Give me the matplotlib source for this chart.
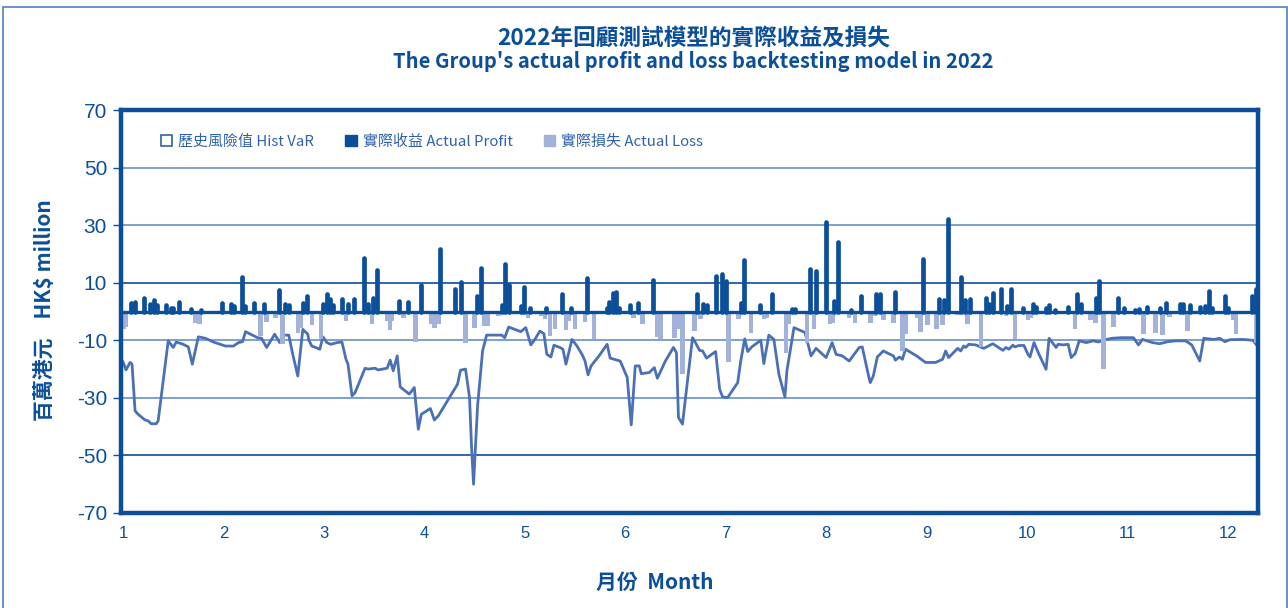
# 2022 backtesting: actual profit / loss bars with Hist VaR line
import matplotlib
matplotlib.use("Agg")
import matplotlib.pyplot as plt
from matplotlib.patches import Patch, Rectangle
import numpy as np

# --- data (x = month of 2022, as fraction of the month) ---
var_month = [1.00, 1.03, 1.07, 1.09, 1.12, 1.15, 1.22, 1.25, 1.28, 1.33, 1.35, 1.45, 1.50, 1.53,
             1.60, 1.65, 1.69, 1.75, 1.82, 1.90, 2.02, 2.10, 2.15, 2.19, 2.22, 2.27, 2.34, 2.38,
             2.43, 2.51, 2.56, 2.59, 2.65, 2.69, 2.74, 2.79, 2.84, 2.85, 2.88, 2.96, 2.99, 3.03,
             3.07, 3.13, 3.18, 3.22, 3.24, 3.28, 3.31, 3.41, 3.44, 3.51, 3.54, 3.63, 3.66, 3.69,
             3.73, 3.76, 3.85, 3.90, 3.94, 3.97, 4.06, 4.10, 4.14, 4.28, 4.33, 4.36, 4.41, 4.45,
             4.47, 4.49, 4.53, 4.58, 4.62, 4.70, 4.77, 4.80, 4.84, 4.90, 4.96, 5.01, 5.06, 5.10,
             5.15, 5.19, 5.22, 5.26, 5.29, 5.35, 5.38, 5.41, 5.47, 5.52, 5.57, 5.60, 5.63, 5.66,
             5.74, 5.82, 5.85, 5.92, 5.95, 6.02, 6.06, 6.10, 6.14, 6.16, 6.24, 6.29, 6.32, 6.40,
             6.48, 6.51, 6.53, 6.57, 6.67, 6.69, 6.74, 6.77, 6.81, 6.90, 6.94, 6.97, 7.02, 7.12,
             7.15, 7.19, 7.22, 7.26, 7.35, 7.38, 7.43, 7.48, 7.53, 7.59, 7.61, 7.68, 7.79, 7.85,
             7.90, 8.00, 8.06, 8.10, 8.16, 8.23, 8.33, 8.36, 8.43, 8.44, 8.47, 8.51, 8.57, 8.62,
             8.67, 8.69, 8.73, 8.76, 8.79, 8.90, 8.99, 9.09, 9.16, 9.19, 9.22, 9.31, 9.34, 9.37,
             9.39, 9.42, 9.49, 9.57, 9.66, 9.76, 9.79, 9.82, 9.86, 9.88, 9.92, 9.97, 10.01, 10.03,
             10.07, 10.12, 10.19, 10.22, 10.29, 10.31, 10.36, 10.41, 10.44, 10.48, 10.52, 10.59,
             10.66, 10.71, 10.79, 10.85, 10.93, 11.06, 11.11, 11.15, 11.25, 11.32, 11.40, 11.48,
             11.58, 11.64, 11.72, 11.76, 11.86, 11.92, 11.97, 12.02, 12.15, 12.25, 12.28]
var_value = [-17.5, -20.3, -17.7, -18.3, -34.5, -35.7, -37.7, -38.0, -39.0, -39.0, -38.0, -10.2,
             -12.5, -10.6, -11.4, -12.3, -18.3, -8.8, -9.3, -10.6, -12.0, -12.0, -10.8, -10.5,
             -7.0, -7.9, -9.1, -9.3, -12.5, -7.9, -10.8, -8.2, -8.2, -14.9, -22.4, -6.2, -7.9,
             -10.0, -12.0, -13.1, -8.8, -10.8, -11.4, -10.8, -10.6, -16.6, -18.3, -29.3, -28.2,
             -19.7, -20.0, -19.7, -20.3, -19.7, -16.9, -20.6, -15.4, -26.2, -28.7, -26.4, -40.9,
             -35.7, -33.7, -37.7, -36.2, -28.2, -25.3, -20.4, -20.0, -29.9, -47.0, -60.0, -32.8,
             -13.7, -8.2, -8.2, -8.2, -9.1, -5.4, -6.2, -7.0, -5.6, -11.6, -9.7, -6.8, -7.7,
             -14.9, -15.8, -11.7, -12.5, -13.1, -18.3, -9.7, -12.0, -14.9, -17.2, -22.0, -18.9,
             -15.4, -11.4, -16.2, -16.9, -17.2, -22.9, -39.4, -18.9, -18.9, -21.6, -21.2, -19.5,
             -23.2, -17.2, -12.5, -14.3, -36.8, -39.1, -9.1, -10.2, -13.5, -13.7, -16.2, -13.9,
             -27.0, -29.7, -29.9, -24.7, -17.2, -9.5, -13.9, -12.3, -10.0, -18.1, -8.2, -9.7,
             -21.8, -29.7, -20.6, -5.6, -7.3, -15.4, -12.8, -16.0, -10.8, -14.9, -15.4, -17.2,
             -12.5, -12.3, -23.5, -24.7, -22.4, -15.8, -13.7, -14.6, -15.4, -16.9, -15.8, -16.6,
             -13.1, -15.4, -17.7, -17.7, -16.6, -13.7, -16.0, -12.8, -13.7, -12.0, -12.5, -11.4,
             -11.6, -12.8, -11.2, -13.5, -12.5, -13.1, -11.7, -12.3, -11.8, -11.8, -14.9, -15.8,
             -10.8, -14.9, -20.1, -9.3, -12.5, -11.4, -11.6, -11.4, -16.0, -14.6, -10.2, -10.8,
             -10.2, -10.6, -9.7, -9.3, -9.1, -9.1, -11.6, -9.7, -10.8, -11.2, -10.5, -10.2,
             -10.2, -11.6, -17.2, -9.3, -9.7, -9.3, -10.5, -9.8, -9.7, -10.0, -11.4]

profit_month = [1.08, 1.12, 1.21, 1.27, 1.31, 1.34, 1.43, 1.48, 1.50, 1.56, 1.68, 1.78, 1.99, 2.08,
                2.11, 2.18, 2.21, 2.30, 2.40, 2.55, 2.61, 2.65, 2.79, 2.83, 2.99, 3.03, 3.06, 3.09,
                3.18, 3.24, 3.30, 3.40, 3.44, 3.49, 3.53, 3.75, 3.84, 3.97, 4.16, 4.31, 4.37, 4.52,
                4.56, 4.77, 4.80, 4.84, 4.96, 4.99, 5.05, 5.21, 5.37, 5.46, 5.62, 5.82, 5.84, 5.88,
                5.91, 5.94, 6.05, 6.13, 6.28, 6.71, 6.77, 6.81, 6.90, 6.96, 7.00, 7.15, 7.18, 7.34,
                7.46, 7.66, 7.69, 7.84, 7.90, 8.00, 8.08, 8.12, 8.25, 8.35, 8.50, 8.54, 8.69, 8.96,
                9.12, 9.17, 9.21, 9.34, 9.38, 9.43, 9.59, 9.62, 9.66, 9.74, 9.80, 9.84, 9.96, 10.06,
                10.09, 10.19, 10.22, 10.28, 10.41, 10.50, 10.54, 10.69, 10.72, 10.91, 10.97, 11.08,
                11.12, 11.19, 11.32, 11.38, 11.52, 11.55, 11.62, 11.72, 11.77, 11.81, 11.84, 11.97,
                12.00, 12.24, 12.28]
profit_value = [3.1, 3.4, 4.8, 2.7, 3.9, 2.3, 2.3, 1.1, 1.1, 3.4, 1.0, 0.4, 3.1, 2.5, 1.9, 12.0,
                1.9, 3.1, 2.5, 7.3, 2.7, 2.3, 3.0, 5.4, 2.5, 6.0, 4.2, 2.3, 4.2, 2.7, 4.2, 18.7,
                2.7, 4.8, 14.4, 3.6, 3.4, 9.1, 21.6, 7.7, 10.2, 5.4, 15.0, 2.3, 16.6, 9.2, 1.9,
                8.5, 1.3, 1.3, 6.2, 1.1, 11.5, 1.1, 3.4, 6.5, 6.9, 1.1, 2.3, 3.1, 10.8, 6.0, 2.5,
                2.3, 12.5, 13.2, 10.6, 3.1, 17.9, 2.1, 6.2, 1.0, 0.8, 14.9, 14.0, 31.2, 3.6, 24.2,
                0.4, 5.4, 6.2, 6.2, 6.9, 18.3, 4.2, 4.0, 32.3, 12.0, 4.0, 4.2, 4.8, 2.7, 6.3, 7.9,
                1.9, 7.9, 1.3, 2.5, 1.7, 1.1, 2.3, 0.4, 1.6, 6.0, 2.7, 4.8, 10.6, 4.8, 1.1, 0.4,
                0.8, 1.6, 1.1, 3.1, 2.5, 2.7, 2.3, 1.6, 1.9, 7.1, 1.1, 5.4, 1.1, 5.4, 7.7]

loss_month = [1.01, 1.03, 1.25, 1.72, 1.76, 1.89, 2.14, 2.37, 2.43, 2.52, 2.59, 2.74, 2.77, 2.88,
              2.97, 3.22, 3.48, 3.63, 3.66, 3.68, 3.79, 3.91, 4.07, 4.10, 4.14, 4.41, 4.50, 4.60,
              4.63, 4.74, 5.03, 5.16, 5.20, 5.25, 5.30, 5.41, 5.44, 5.50, 5.60, 5.69, 6.08, 6.10,
              6.17, 6.32, 6.35, 6.49, 6.54, 6.57, 6.69, 6.75, 7.03, 7.13, 7.25, 7.38, 7.41, 7.60,
              7.63, 7.81, 7.88, 8.04, 8.07, 8.23, 8.29, 8.44, 8.48, 8.57, 8.67, 8.76, 8.79, 8.91,
              8.94, 9.01, 9.10, 9.16, 9.31, 9.41, 9.54, 9.79, 9.88, 10.01, 10.04, 10.48, 10.63,
              10.68, 10.76, 10.86, 10.94, 11.16, 11.28, 11.35, 11.42, 11.60, 11.76, 12.05, 12.08,
              12.28]
loss_value = [-6.2, -5.4, -1.0, -3.9, -4.2, -1.0, -0.7, -8.5, -3.5, -2.1, -11.2, -7.3, -5.6, -4.7,
              -9.7, -3.3, -4.5, -3.3, -6.5, -3.3, -2.1, -10.5, -4.2, -5.6, -4.2, -10.8, -5.6,
              -5.0, -5.0, -1.6, -2.1, -1.6, -2.7, -8.5, -6.2, -6.5, -3.3, -6.2, -3.5, -9.7, -2.3,
              -1.0, -4.5, -8.8, -9.7, -9.1, -6.2, -21.8, -6.8, -2.7, -17.7, -2.7, -7.3, -2.7,
              -2.1, -14.3, -4.5, -10.8, -6.2, -4.5, -3.9, -2.3, -3.9, -3.9, -1.6, -3.1, -3.9,
              -13.7, -7.7, -2.3, -7.0, -4.7, -6.2, -4.7, -1.2, -4.2, -12.5, -1.6, -9.7, -3.1,
              -2.3, -6.2, -3.1, -3.9, -20.1, -5.4, -1.0, -7.7, -7.3, -8.1, -1.9, -6.8, -1.0,
              -3.1, -7.9, -11.0]

month_ticks = list(range(1, 13))
value_ticks = [-70, -50, -30, -10, 10, 30, 50, 70]

# --- style ---
DARK = "#0B4F9A"
LIGHT = "#A3B2D9"
LINE = "#4A70B5"
TEXT = "#0B4F9A"
CJK = ["Noto Sans CJK TC", "DejaVu Sans"]
NUM = ["Liberation Sans", "DejaVu Sans"]

W, H = 1288, 608
fig = plt.figure(figsize=(W / 100, H / 100), dpi=100)
ax = fig.add_axes([121 / W, (H - 513) / H, (1258 - 121) / W, (513 - 110) / H])

# outer frame of the figure
fig.patches.append(Rectangle((3 / W, -0.02), (1284) / W, 1.02 - 7 / H, transform=fig.transFigure,
                             fill=False, edgecolor="#4F80C0", linewidth=1.2))

# grid lines
for v in value_ticks[1:-1]:
    c = "#1E5BA5" if v in (10, -50) else "#7399C9"
    ax.axhline(v, color=c, linewidth=1.3, zorder=1)

# Hist VaR line (under the bars)
ax.plot(var_month, var_value, color=LINE, linewidth=2.0, zorder=2)

# actual loss bars
ax.bar(loss_month, loss_value, width=0.045, color=LIGHT, zorder=3)

# zero baseline and actual profit bars (thick round-capped strokes)
ax.axhline(0, color=DARK, linewidth=2.4, zorder=4)
pc = ax.vlines(profit_month, 0, profit_value, color=DARK, linewidth=3.4, zorder=5)
pc.set_capstyle("round")

ax.set_xlim(0.98, 12.30)
ax.set_ylim(-70, 70)
ax.set_xticks(month_ticks)
ax.set_xticklabels([str(m) for m in month_ticks], family=NUM, fontsize=12, color=TEXT)
ax.set_yticks(value_ticks)
ax.set_yticklabels([str(v) for v in value_ticks], family=NUM, fontsize=15, color=TEXT)
ax.tick_params(axis="x", length=0, pad=9)
ax.tick_params(axis="y", length=6, width=1, color=TEXT, pad=4)
for s in ax.spines.values():
    s.set_color(DARK)
    s.set_linewidth(3.2)
    s.set_zorder(6)

# legend
handles = [Patch(facecolor="white", edgecolor="#2F62AA", linewidth=1.2),
           Patch(facecolor=DARK, edgecolor=DARK),
           Patch(facecolor=LIGHT, edgecolor=LIGHT)]
labels = ["歷史風險值 Hist VaR", "實際收益 Actual Profit", "實際損失 Actual Loss"]
leg = ax.legend(handles, labels, loc="upper left", bbox_to_anchor=(0.023, 0.973), ncol=3,
                frameon=False, handlelength=0.75, handleheight=0.75, handletextpad=0.4,
                columnspacing=2.1, prop={"family": CJK, "size": 10.8})
for t in leg.get_texts():
    t.set_color("#2F62AA")

# titles and axis labels
fig.text(694 / W, 1 - 38 / H, "2022年回顧測試模型的實際收益及損失", ha="center", va="center",
         family=CJK, fontsize=16.3, fontweight="bold", color=TEXT)
fig.text(693 / W, 1 - 62 / H, "The Group's actual profit and loss backtesting model in 2022",
         ha="center", va="center", family=CJK, fontsize=14.5, fontweight="bold", color=TEXT)
fig.text(45 / W, 1 - 310 / H, "百萬港元    HK$ million", rotation=90, ha="center", va="center",
         family=CJK, fontsize=15, fontweight="bold", color=TEXT)
fig.text(655 / W, 1 - 582 / H, "月份  Month", ha="center", va="center",
         family=CJK, fontsize=15, fontweight="bold", color=TEXT)

fig.savefig("out.png", dpi=100)
